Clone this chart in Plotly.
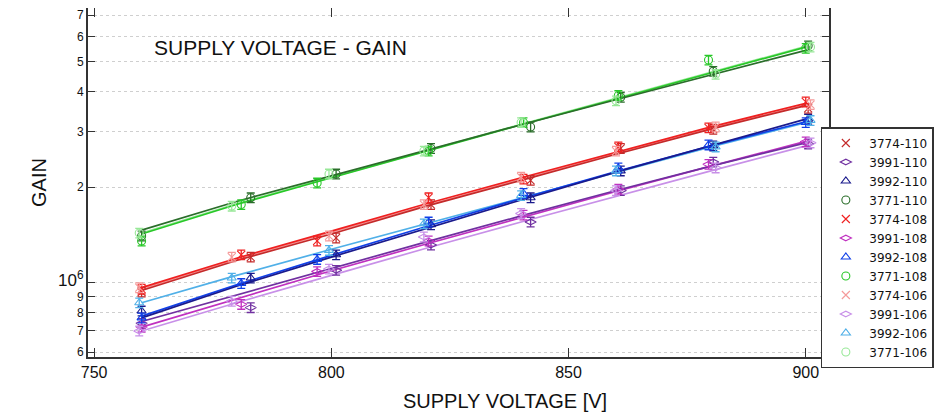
import plotly.graph_objects as go

# ---------------- data ----------------
FIT_V = [760, 780, 800, 820, 840, 860, 880, 900]

series_names = ["3774-110", "3991-110", "3992-110", "3771-110",
                "3774-108", "3991-108", "3992-108", "3771-108",
                "3774-106", "3991-106", "3992-106", "3771-106"]

# measured supply voltages (slightly different per tube setting)
v_110 = [760, 783, 801, 821, 842, 861, 880.5, 900.5]
v_108 = [760, 781, 797, 820.5, 840.5, 860.5, 879.5, 900]
v_106 = [759.5, 779, 799.5, 819.5, 840, 860, 881, 901]

# measured gains (x 1e6)
g_3774_110 = [0.93, 1.20, 1.38, 1.76, 2.10, 2.65, 3.05, 3.55]
g_3774_108 = [0.95, 1.22, 1.35, 1.85, 2.12, 2.68, 3.08, 3.72]
g_3774_106 = [0.96, 1.20, 1.40, 1.76, 2.15, 2.60, 3.10, 3.65]
g_3991_110 = [0.74, 0.83, 1.09, 1.31, 1.55, 1.95, 2.40, 2.74]
g_3991_108 = [0.72, 0.85, 1.08, 1.35, 1.63, 1.97, 2.36, 2.78]
g_3991_106 = [0.70, 0.87, 1.10, 1.39, 1.65, 1.95, 2.30, 2.76]
g_3992_110 = [0.81, 1.03, 1.22, 1.52, 1.85, 2.25, 2.70, 3.28]
g_3992_108 = [0.77, 0.99, 1.18, 1.55, 1.91, 2.30, 2.72, 3.20]
g_3992_106 = [0.86, 1.03, 1.26, 1.53, 1.88, 2.25, 2.68, 3.25]
g_3771_110 = [1.40, 1.85, 2.20, 2.65, 3.10, 3.85, 4.65, 5.60]
g_3771_108 = [1.35, 1.76, 2.06, 2.60, 3.20, 3.90, 5.05, 5.50]
g_3771_106 = [1.43, 1.74, 2.20, 2.60, 3.20, 3.75, 4.55, 5.55]

# fitted gain curves (x 1e6) read at FIT_V
f_3774_110 = [0.94, 1.17, 1.42, 1.74, 2.10, 2.54, 3.05, 3.62]
f_3774_108 = [0.96, 1.19, 1.45, 1.77, 2.14, 2.58, 3.10, 3.68]
f_3774_106 = [0.95, 1.18, 1.44, 1.75, 2.12, 2.56, 3.07, 3.64]
f_3991_110 = [0.75, 0.91, 1.11, 1.34, 1.62, 1.95, 2.33, 2.76]
f_3991_108 = [0.72, 0.886, 1.086, 1.32, 1.60, 1.935, 2.33, 2.79]
f_3991_106 = [0.70, 0.86, 1.05, 1.28, 1.55, 1.87, 2.25, 2.70]
f_3992_110 = [0.77, 0.97, 1.20, 1.48, 1.82, 2.23, 2.71, 3.28]
f_3992_108 = [0.78, 0.98, 1.215, 1.50, 1.84, 2.24, 2.70, 3.22]
f_3992_106 = [0.86, 1.05, 1.27, 1.53, 1.85, 2.23, 2.68, 3.20]
f_3771_110 = [1.46, 1.80, 2.17, 2.62, 3.15, 3.78, 4.53, 5.42]
f_3771_108 = [1.42, 1.76, 2.14, 2.60, 3.15, 3.80, 4.60, 5.55]
f_3771_106 = [1.43, 1.77, 2.15, 2.61, 3.16, 3.82, 4.62, 5.58]

ytick_vals = [6e5, 7e5, 8e5, 9e5, 1e6, 2e6, 3e6, 4e6, 5e6, 6e6, 7e6]
ytick_text = ["6", "7", "8", "9",
              "<span style='font-size:17px'>10<sup>6</sup></span>",
              "2", "3", "4", "5", "6", "7"]
xtick_vals = [750, 800, 850, 900]

# ---------------- styling ----------------
series = [
    ("3774-110", v_110, g_3774_110, f_3774_110, "#c42a2a", "x-thin"),
    ("3991-110", v_110, g_3991_110, f_3991_110, "#7030a0", "diamond-wide-open"),
    ("3992-110", v_110, g_3992_110, f_3992_110, "#1a1a8c", "triangle-up-open"),
    ("3771-110", v_110, g_3771_110, f_3771_110, "#2a6e2a", "circle-open"),
    ("3774-108", v_108, g_3774_108, f_3774_108, "#f02020", "x-thin"),
    ("3991-108", v_108, g_3991_108, f_3991_108, "#c030c0", "diamond-wide-open"),
    ("3992-108", v_108, g_3992_108, f_3992_108, "#1040e8", "triangle-up-open"),
    ("3771-108", v_108, g_3771_108, f_3771_108, "#28c828", "circle-open"),
    ("3774-106", v_106, g_3774_106, f_3774_106, "#f59a9a", "x-thin"),
    ("3991-106", v_106, g_3991_106, f_3991_106, "#c890e8", "diamond-wide-open"),
    ("3992-106", v_106, g_3992_106, f_3992_106, "#50b0e8", "triangle-up-open"),
    ("3771-106", v_106, g_3771_106, f_3771_106, "#98e898", "circle-open"),
]

fig = go.Figure()

# fit lines (light series underneath)
for name, v, g, f, col, sym in reversed(series):
    fig.add_trace(go.Scatter(
        x=FIT_V, y=[val * 1e6 for val in f], mode="lines",
        line=dict(color=col, width=1.7), showlegend=False, hoverinfo="skip"))

# measured points with error bars
for name, v, g, f, col, sym in series:
    fig.add_trace(go.Scatter(
        x=v, y=[val * 1e6 for val in g], mode="markers", name=name,
        marker=dict(symbol=sym, size=8, color=col,
                    line=dict(color=col, width=1.1)),
        error_y=dict(type="percent", value=3.5, color=col,
                     thickness=1.3, width=4),
    ))

fig.add_annotation(
    text="SUPPLY VOLTAGE - GAIN", xref="paper", yref="paper",
    x=0.086, y=0.888, xanchor="left", yanchor="middle", showarrow=False,
    font=dict(family="Liberation Sans, Arial", size=21, color="#111"))

fig.add_annotation(
    text="SUPPLY VOLTAGE [V]", xref="paper", yref="paper",
    x=0.563, y=-0.125, xanchor="center", yanchor="middle", showarrow=False,
    font=dict(family="Liberation Sans, Arial", size=20, color="#111"))

# the page body adds an 8px offset, so the figure is 8px smaller
fig.update_layout(
    width=937, height=412,
    margin=dict(l=80, r=116, t=0, b=63, autoexpand=False),
    paper_bgcolor="white", plot_bgcolor="white",
    font=dict(family="Liberation Sans, Arial", color="#111"),
    showlegend=True,
    legend=dict(x=0.989, y=0.659, xanchor="left", yanchor="top",
                bgcolor="white", bordercolor="#333", borderwidth=1.5,
                font=dict(family="DejaVu Sans", size=12, color="#111"),
                itemwidth=37, tracegroupgap=0),
)

fig.update_xaxes(
    range=[748.7, 904.9], tickvals=xtick_vals,
    ticks="inside", ticklen=9, tickwidth=1.3, tickcolor="#333",
    showline=True, linecolor="#333", linewidth=2, mirror="ticks",
    showgrid=False, zeroline=False,
    tickfont=dict(size=16, color="#111"))

fig.update_yaxes(
    type="log", range=[5.7627, 6.868],
    tickvals=ytick_vals, ticktext=ytick_text,
    ticks="inside", ticklen=7, tickwidth=1.3, tickcolor="#333",
    showline=True, linecolor="#333", linewidth=2, mirror="ticks",
    showgrid=True, gridcolor="#cfcfcf", griddash="dot", gridwidth=1,
    zeroline=False,
    tickfont=dict(size=12, color="#111"),
    title=dict(text="GAIN", font=dict(size=20, color="#111"), standoff=6))

fig.write_html("out.html")
